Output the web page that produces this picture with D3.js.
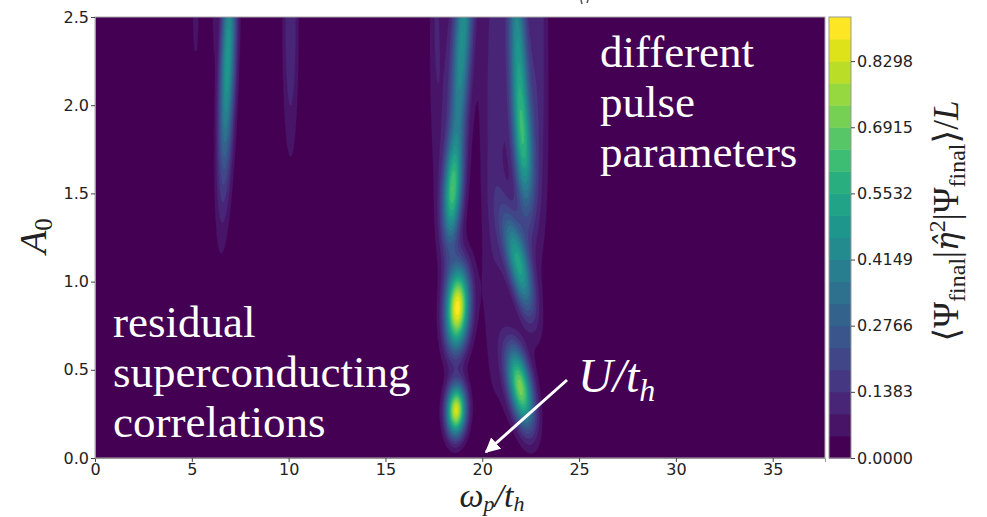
<!DOCTYPE html>
<html lang="en">
<head>
<meta charset="UTF-8">
<title>eta pairing map</title>
<style>
  body { margin: 0; background: #fff; }
  .tick text { font-family: "DejaVu Sans", sans-serif; font-size: 16px; fill: #222; }
  .tick line { stroke: #444; }
  .domain { stroke: #999; }
</style>
</head>
<body>
<script src="https://cdn.jsdelivr.net/npm/d3@7"></script>
<script>
  // axis ticks
  const xTicks = [0, 5, 10, 15, 20, 25, 30, 35];
  const yTicks = [0, 0.5, 1.0, 1.5, 2.0, 2.5];
  const cbTicks = [0.0000, 0.1383, 0.2766, 0.4149, 0.5532, 0.6915, 0.8298];
  // contour levels (20 bands)
  const levels = [0, 0.0461, 0.0922, 0.1383, 0.1844, 0.2305, 0.2766, 0.3227, 0.3688, 0.4149,
                  0.4610, 0.5071, 0.5532, 0.5993, 0.6454, 0.6915, 0.7376, 0.7837, 0.8298, 0.8759, 0.9220];

  // features: centre (omega, A0), height, widths, lean (d omega / d A0)
  const blobX    = [6.85, 5.2, 6.15, 10.1, 19.0, 18.45, 18.72, 18.65, 21.85, 22.15, 21.85, 21.96, 17.6, 20.6, 23.0, 22.3, 18.6];
  const blobY    = [2.25, 2.6, 2.6, 2.45, 2.4, 1.5, 0.85, 0.27, 2.3, 1.75, 1.1, 0.40, 2.6, 1.9, 2.6, 1.9, 2.2];
  const blobAmp  = [0.50, 0.10, 0.08, 0.14, 0.38, 0.50, 0.90, 0.85, 0.38, 0.28, 0.50, 0.72, 0.08, 0.11, 0.09, 0.12, 0.10];
  const blobSx   = [0.28, 0.12, 0.07, 0.28, 0.32, 0.34, 0.42, 0.35, 0.32, 0.34, 0.40, 0.42, 0.25, 0.50, 0.30, 0.65, 0.65];
  const blobSy   = [0.50, 0.25, 0.20, 0.50, 0.55, 0.20, 0.16, 0.10, 0.50, 0.25, 0.20, 0.16, 0.55, 1.10, 0.60, 0.55, 0.60];
  const blobTilt = [0.3, 0, 0, 0, 0.5, 0.5, 0.35, 0.2, -0.35, -0.6, -1.9, -1.5, 0, 0, 0, -0.4, 0.5];

  const w = 987, h = 517;
  const xMax = 37.7, yMax = 2.5, zMax = 0.922;

  const svg = d3.select('body').append('svg')
    .attr('width', w).attr('height', h)
    .style('font-family', '"DejaVu Sans", sans-serif');

  const x = d3.scaleLinear().domain([0, xMax]).range([95, 825]);
  const y = d3.scaleLinear().domain([0, yMax]).range([458, 17]);
  const cb = d3.scaleLinear().domain([0, zMax]).range([458, 17]);
  const color = (k) => d3.interpolateViridis(k / (levels.length - 2));

  // sample the field on a grid
  const nx = 377, ny = 250;
  const vals = new Float64Array(nx * ny);
  for (let j = 0; j < ny; j++) {
    const yy = yMax - (j + 0.5) * yMax / ny;
    for (let i = 0; i < nx; i++) {
      const xx = (i + 0.5) * xMax / nx;
      let s = 0;
      for (let b = 0; b < blobX.length; b++) {
        const dy = yy - blobY[b];
        const dx = xx - blobX[b] - blobTilt[b] * dy;
        s += blobAmp[b] * Math.exp(-(dx * dx) / (2 * blobSx[b] ** 2) - (dy * dy) / (2 * blobSy[b] ** 2));
      }
      vals[j * nx + i] = s;
    }
  }

  const contours = d3.contours().size([nx, ny]).thresholds(levels.slice(0, -1))(vals);
  const proj = d3.geoTransform({
    point(px, py) { this.stream.point(x(px * xMax / nx), y(yMax - py * yMax / ny)); }
  });
  const path = d3.geoPath(proj);

  svg.append('clipPath').attr('id', 'clip')
    .append('rect').attr('x', 95).attr('y', 17).attr('width', 730).attr('height', 441);

  const plot = svg.append('g').attr('clip-path', 'url(#clip)');
  plot.append('rect').attr('x', 95).attr('y', 17).attr('width', 730).attr('height', 441)
    .attr('fill', color(0));
  plot.selectAll('path.band')
    .data(contours)
    .enter().append('path')
    .attr('class', 'band')
    .attr('d', path)
    .attr('fill', (d, i) => color(i))
    .attr('stroke', (d, i) => color(i))
    .attr('stroke-width', 0.3);

  // frame
  svg.append('rect').attr('x', 95).attr('y', 17).attr('width', 730).attr('height', 441)
    .attr('fill', 'none').attr('stroke', '#aaa');

  // axes
  svg.append('g').attr('transform', 'translate(0,458)')
    .call(d3.axisBottom(x).tickValues(xTicks).tickSize(4).tickPadding(2).tickFormat(d3.format('d')));
  svg.append('g').attr('transform', 'translate(95,0)')
    .call(d3.axisLeft(y).tickValues(yTicks).tickSize(4).tickPadding(2).tickFormat(d3.format('.1f')));

  // colorbar
  const cbg = svg.append('g');
  cbg.selectAll('rect.cb')
    .data(d3.range(levels.length - 1))
    .enter().append('rect')
    .attr('x', 829).attr('width', 22)
    .attr('y', (k) => cb(levels[k + 1]))
    .attr('height', (k) => cb(levels[k]) - cb(levels[k + 1]) + 0.5)
    .attr('fill', (k) => color(k));
  cbg.append('rect').attr('x', 829).attr('y', 17).attr('width', 22).attr('height', 441)
    .attr('fill', 'none').attr('stroke', '#999');
  svg.append('g').attr('transform', 'translate(851,0)')
    .call(d3.axisRight(cb).tickValues(cbTicks).tickSize(4).tickPadding(2).tickFormat(d3.format('.4f')))
    .select('.domain').remove();

  // axis labels
  const serif = '"Liberation Serif", "DejaVu Serif", serif';
  const xl = svg.append('text').attr('x', 492).attr('y', 507).attr('text-anchor', 'middle')
    .attr('font-family', serif).attr('font-style', 'italic').attr('font-size', 34).attr('fill', '#222');
  xl.append('tspan').text('ω');
  xl.append('tspan').attr('font-size', 22).attr('dy', 4).text('p');
  xl.append('tspan').attr('dy', -4).text('/t');
  xl.append('tspan').attr('font-size', 22).attr('dy', 4).text('h');

  const yl = svg.append('text').attr('transform', 'translate(46,236) rotate(-90)').attr('text-anchor', 'middle')
    .attr('font-family', serif).attr('font-style', 'italic').attr('font-size', 38).attr('fill', '#222');
  yl.append('tspan').text('A');
  yl.append('tspan').attr('font-size', 25).attr('dy', 6).attr('font-style', 'normal').text('0');

  const cl = svg.append('text').attr('transform', 'translate(958,221) rotate(-90)').attr('text-anchor', 'middle')
    .attr('font-family', serif).attr('font-size', 35).attr('fill', '#222');
  cl.append('tspan').text('⟨Ψ');
  cl.append('tspan').attr('font-size', 24).attr('dy', 7).text('final');
  cl.append('tspan').attr('dy', -7).text('|');
  cl.append('tspan').attr('font-family', '"DejaVu Serif", serif').attr('font-style', 'italic')
    .attr('font-size', 31).text('η̂');
  cl.append('tspan').attr('font-size', 24).attr('dy', -13).text('2');
  cl.append('tspan').attr('dy', 13).text('|Ψ');
  cl.append('tspan').attr('font-size', 24).attr('dy', 7).text('final');
  cl.append('tspan').attr('dy', -7).text('⟩/');
  cl.append('tspan').attr('font-style', 'italic').text('L');

  // cut-off title remnant at the top edge
  svg.append('path').attr('d', 'M581,0 L582,4 M588,0 L587,3')
    .attr('stroke', '#555').attr('stroke-width', 1.5).attr('fill', 'none');

  // annotations
  const notes = svg.append('g').attr('font-family', serif).attr('font-size', 45).attr('fill', '#fff');
  [['residual', 337], ['superconducting', 387], ['correlations', 437]].forEach(([t, yy]) =>
    notes.append('text').attr('x', 113).attr('y', yy).text(t));
  [['different', 67], ['pulse', 117], ['parameters', 167]].forEach(([t, yy]) =>
    notes.append('text').attr('x', 600).attr('y', yy).text(t));
  const u = notes.append('text').attr('x', 578).attr('y', 392).attr('font-style', 'italic').attr('font-size', 48);
  u.append('tspan').text('U/t');
  u.append('tspan').attr('font-size', 32).attr('dy', 9).text('h');

  svg.append('defs').append('marker').attr('id', 'head')
    .attr('viewBox', '0 0 10 10').attr('refX', 9).attr('refY', 5)
    .attr('markerWidth', 5).attr('markerHeight', 5).attr('orient', 'auto')
    .append('path').attr('d', 'M0,0L10,5L0,10z').attr('fill', '#fff');
  svg.append('line').attr('x1', 567).attr('y1', 380).attr('x2', 486).attr('y2', 452)
    .attr('stroke', '#fff').attr('stroke-width', 3).attr('marker-end', 'url(#head)');
</script>
</body>
</html>
